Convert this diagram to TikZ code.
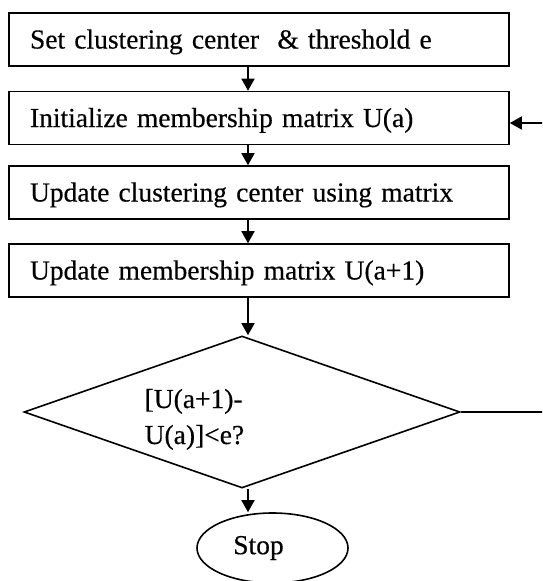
\documentclass[tikz,border=0pt]{standalone}
\usepackage{fontspec}
\setmainfont{Liberation Serif}[FakeBold=0.4]
\usetikzlibrary{shapes.geometric,arrows.meta}
\begin{document}
\begin{tikzpicture}[x=1pt,y=-1pt,
  lw/.style={line width=1.6pt},
  txt/.style={font=\fontsize{27.5}{36}\selectfont},
  procbox/.style={draw,lw,rectangle,txt,minimum width=500pt,minimum height=53pt,
    inner xsep=21pt,inner ysep=0pt,text width=458pt,align=left,
    text height=22pt,text depth=4pt},
  decision/.style={draw,lw,diamond,minimum width=436pt,minimum height=152pt,inner sep=0pt,aspect=3},
  terminal/.style={draw,lw,ellipse,minimum width=151pt,minimum height=70pt,inner sep=0pt},
  flow/.style={lw,-{Triangle[width=13pt,length=12pt]}}]
\useasboundingbox (0,0) rectangle (542,581);
\clip (0,0) rectangle (542,581);
\coordinate (ax) at (248,0);
\node[procbox] (b1) at (259,39.5) {Set clustering center\ \ \& threshold e};
\node[procbox] (b2) at (259,118) {Initialize membership matrix U(a)};
\node[procbox] (b3) at (259,192.5) {Update clustering center using matrix};
\node[procbox] (b4) at (259,270.5) {Update membership matrix U(a+1)};
\node[decision] (dec) at (242,412) {};
\node[txt,anchor=base west,align=left,inner sep=0pt] (dect) at (144.5,444) {[U(a+1)-\\U(a)]<e?};
\node[terminal,label={[txt,xshift=-14pt]center:Stop}] (stop) at (272.5,548) {};
\draw[flow] (b1.south -| ax) -- (b2.north -| ax);
\draw[flow] (b2.south -| ax) -- (b3.north -| ax);
\draw[flow] (b3.south -| ax) -- (b4.north -| ax);
\draw[flow] (b4.south -| ax) -- (dec.north -| ax);
\draw[flow] (dec.south -| ax) -- (stop.north -| ax);
\draw[flow] (dec.east) -- ++(110,0) |- ([yshift=-5pt]b2.east);
\end{tikzpicture}
\end{document}
